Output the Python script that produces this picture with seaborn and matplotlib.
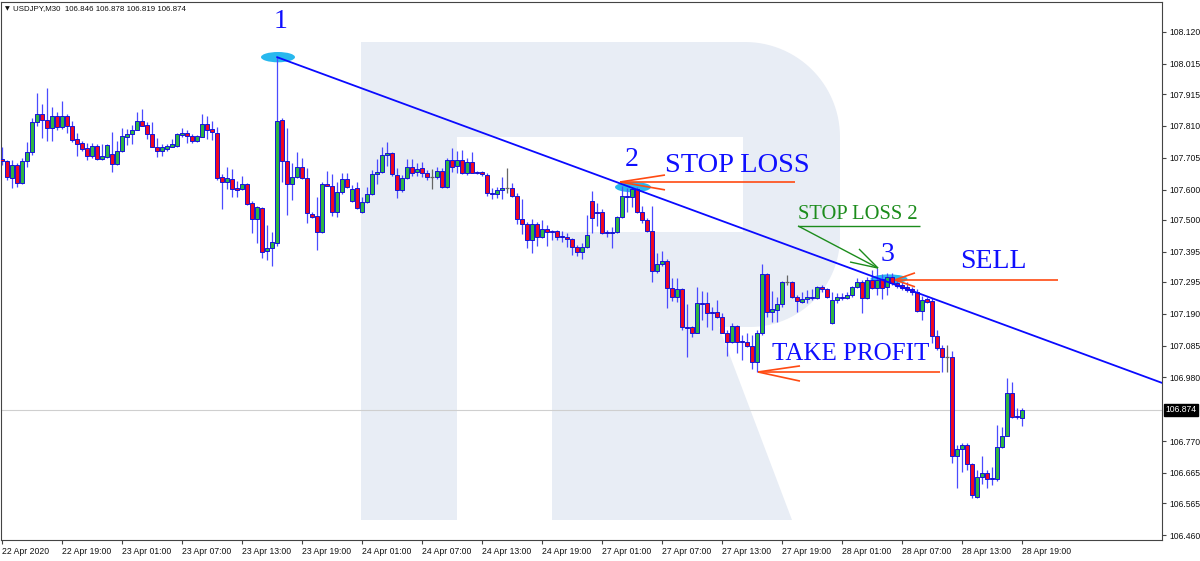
import numpy as np
import pandas as pd
import matplotlib
matplotlib.use("Agg")
import matplotlib.pyplot as plt
import matplotlib.transforms as mtransforms
from matplotlib.patches import Ellipse, Polygon
import seaborn as sns

# ---------------- data (USDJPY M30) ----------------
opens = [107.701,107.695,107.639,107.682,107.622,107.695,107.724,107.823,107.850,107.830,
         107.804,107.843,107.807,107.843,107.810,107.767,107.754,107.737,107.711,107.744,
         107.701,107.708,107.718,107.685,107.728,107.774,107.784,107.797,107.827,107.813,
         107.784,107.741,107.728,107.734,107.741,107.744,107.780,107.787,107.777,107.761,
         107.774,107.817,107.800,107.787,107.642,107.625,107.635,107.606,107.602,107.619,
         107.556,107.503,107.540,107.398,107.407,107.424,107.830,107.695,107.619,107.642,
         107.675,107.639,107.520,107.513,107.460,107.619,107.612,107.526,107.592,107.635,
         107.563,107.606,107.526,107.559,107.586,107.652,107.659,107.714,107.721,107.648,
         107.599,107.639,107.675,107.659,107.671,107.655,107.642,107.642,107.662,107.609,
         107.698,107.678,107.698,107.655,107.691,107.659,107.659,107.648,107.589,107.586,
         107.599,107.606,107.606,107.579,107.503,107.487,107.434,107.487,107.444,107.470,
         107.464,107.464,107.447,107.444,107.437,107.411,107.394,107.411,107.563,107.526,
         107.526,107.460,107.457,107.460,107.510,107.579,107.576,107.602,107.526,107.500,
         107.464,107.332,107.355,107.365,107.276,107.246,107.272,107.147,107.147,107.127,
         107.226,107.226,107.196,107.196,107.180,107.127,107.097,107.150,107.098,107.097,
         107.084,107.031,107.127,107.322,107.196,107.203,107.223,107.295,107.295,107.246,
         107.230,107.239,107.246,107.243,107.279,107.272,107.159,107.236,107.246,107.243,
         107.252,107.279,107.295,107.243,107.302,107.276,107.305,107.279,107.312,107.292,
         107.285,107.279,107.272,107.262,107.200,107.239,107.233,107.117,107.077,107.048,
         107.048,106.721,106.744,106.757,106.694,106.585,106.651,106.665,106.648,106.645,
         106.750,106.787,106.929,106.853,106.846]
highs = [107.741,107.698,107.698,107.688,107.705,107.757,107.837,107.919,107.883,107.936,
         107.873,107.856,107.893,107.850,107.827,107.787,107.761,107.754,107.754,107.751,
         107.751,107.751,107.790,107.761,107.804,107.800,107.813,107.856,107.866,107.823,
         107.823,107.771,107.751,107.751,107.767,107.787,107.804,107.797,107.784,107.780,
         107.850,107.843,107.827,107.807,107.652,107.675,107.668,107.629,107.645,107.622,
         107.563,107.546,107.543,107.483,107.460,108.037,107.837,107.804,107.688,107.724,
         107.705,107.671,107.526,107.576,107.625,107.662,107.652,107.625,107.655,107.655,
         107.615,107.625,107.576,107.609,107.665,107.701,107.741,107.757,107.724,107.671,
         107.648,107.701,107.701,107.688,107.691,107.665,107.668,107.675,107.671,107.705,
         107.737,107.728,107.731,107.705,107.724,107.662,107.662,107.655,107.606,107.609,
         107.642,107.671,107.622,107.589,107.569,107.493,107.503,107.493,107.500,107.483,
         107.467,107.467,107.464,107.457,107.440,107.417,107.424,107.516,107.596,107.556,
         107.536,107.467,107.477,107.513,107.612,107.606,107.609,107.609,107.546,107.507,
         107.546,107.391,107.398,107.371,107.309,107.309,107.276,107.223,107.150,107.279,
         107.266,107.262,107.213,107.236,107.193,107.137,107.160,107.153,107.120,107.127,
         107.120,107.137,107.355,107.325,107.266,107.246,107.299,107.318,107.299,107.252,
         107.262,107.269,107.272,107.282,107.285,107.276,107.262,107.259,107.259,107.262,
         107.282,107.308,107.302,107.312,107.335,107.341,107.321,107.325,107.325,107.302,
         107.295,107.295,107.279,107.272,107.249,107.246,107.243,107.137,107.087,107.087,
         107.067,106.757,106.764,106.764,106.698,106.674,106.721,106.674,106.684,106.823,
         106.816,106.978,106.965,106.879,106.878]
lows = [107.682,107.632,107.606,107.609,107.619,107.675,107.714,107.810,107.771,107.761,
        107.761,107.797,107.800,107.787,107.757,107.711,107.728,107.698,107.705,107.698,
        107.698,107.705,107.659,107.682,107.724,107.747,107.751,107.797,107.810,107.767,
        107.741,107.708,107.711,107.728,107.741,107.741,107.774,107.754,107.754,107.757,
        107.774,107.767,107.764,107.632,107.536,107.602,107.576,107.576,107.599,107.550,
        107.457,107.424,107.374,107.368,107.348,107.414,107.625,107.516,107.566,107.639,
        107.635,107.490,107.507,107.401,107.457,107.612,107.513,107.510,107.586,107.606,
        107.559,107.536,107.523,107.556,107.582,107.619,107.655,107.678,107.645,107.573,
        107.592,107.635,107.645,107.645,107.642,107.632,107.602,107.635,107.606,107.606,
        107.659,107.655,107.652,107.648,107.655,107.652,107.645,107.579,107.569,107.573,
        107.569,107.589,107.576,107.487,107.454,107.407,107.391,107.414,107.440,107.414,
        107.434,107.434,107.427,107.411,107.384,107.381,107.371,107.407,107.457,107.480,
        107.454,107.444,107.407,107.457,107.507,107.526,107.543,107.523,107.490,107.460,
        107.295,107.325,107.348,107.210,107.233,107.230,107.137,107.048,107.114,107.127,
        107.170,107.147,107.137,107.176,107.127,107.051,107.094,107.061,107.038,107.081,
        107.008,106.998,107.120,107.180,107.163,107.163,107.213,107.285,107.243,107.196,
        107.226,107.226,107.236,107.239,107.262,107.243,107.156,107.226,107.236,107.239,
        107.246,107.276,107.193,107.239,107.272,107.252,107.239,107.252,107.285,107.276,
        107.269,107.262,107.252,107.196,107.170,107.226,107.094,107.071,106.998,106.998,
        106.698,106.615,106.668,106.674,106.582,106.582,106.628,106.615,106.625,106.638,
        106.747,106.787,106.846,106.843,106.819]
closes = [107.695,107.642,107.682,107.622,107.695,107.724,107.823,107.850,107.830,107.804,
          107.843,107.807,107.843,107.810,107.764,107.751,107.734,107.711,107.744,107.701,
          107.711,107.747,107.685,107.728,107.777,107.784,107.797,107.827,107.810,107.784,
          107.741,107.728,107.741,107.744,107.751,107.784,107.787,107.777,107.761,107.777,
          107.817,107.797,107.790,107.639,107.625,107.639,107.602,107.599,107.619,107.553,
          107.503,107.543,107.394,107.407,107.427,107.827,107.695,107.619,107.642,107.675,
          107.639,107.523,107.510,107.460,107.619,107.612,107.526,107.592,107.635,107.609,
          107.602,107.540,107.559,107.586,107.652,107.659,107.714,107.721,107.652,107.599,
          107.639,107.675,107.655,107.668,107.655,107.642,107.642,107.662,107.609,107.698,
          107.675,107.698,107.655,107.691,107.655,107.655,107.652,107.589,107.586,107.599,
          107.606,107.606,107.579,107.503,107.487,107.434,107.487,107.444,107.470,107.460,
          107.460,107.444,107.444,107.437,107.411,107.394,107.411,107.450,107.507,107.523,
          107.457,107.457,107.460,107.510,107.579,107.576,107.602,107.526,107.500,107.464,
          107.332,107.355,107.365,107.276,107.246,107.272,107.147,107.143,107.127,107.226,
          107.223,107.193,107.193,107.180,107.127,107.097,107.150,107.097,107.096,107.084,
          107.031,107.127,107.322,107.196,107.206,107.223,107.295,107.295,107.246,107.233,
          107.239,107.246,107.243,107.279,107.272,107.246,107.236,107.246,107.243,107.252,
          107.279,107.295,107.243,107.302,107.276,107.302,107.276,107.312,107.292,107.282,
          107.276,107.269,107.262,107.200,107.236,107.230,107.117,107.077,107.048,107.048,
          106.721,106.744,106.757,106.694,106.592,106.651,106.665,106.645,106.645,106.750,
          106.787,106.929,106.849,106.849,106.874]

time_labels = ["22 Apr 2020", "22 Apr 19:00", "23 Apr 01:00", "23 Apr 07:00", "23 Apr 13:00",
               "23 Apr 19:00", "24 Apr 01:00", "24 Apr 07:00", "24 Apr 13:00", "24 Apr 19:00",
               "27 Apr 01:00", "27 Apr 07:00", "27 Apr 13:00", "27 Apr 19:00", "28 Apr 01:00",
               "28 Apr 07:00", "28 Apr 13:00", "28 Apr 19:00"]
time_label_bars = list(range(0, 205, 12))
price_ticks = [108.120, 108.015, 107.915, 107.810, 107.705, 107.600, 107.500, 107.395,
               107.295, 107.190, 107.085, 106.980, 106.770, 106.665, 106.565, 106.460]
last_price = 106.874
trend_x = [55, 232]
trend_y = [108.037, 106.962]

# ---------------- figure ----------------
sns.set_theme(style="white")
plt.rcParams["font.family"] = ["Liberation Sans", "DejaVu Sans"]

W, H = 1200, 561
fig = plt.figure(figsize=(W / 100, H / 100), dpi=100)
fig.patch.set_facecolor("white")

# background axes holding the watermark "R" (pixel coordinates, y downward)
bg = fig.add_axes([0, 0, 1, 1], zorder=0)
bg.set_xlim(0, W)
bg.set_ylim(H, 0)
bg.axis("off")

def arc(cx, cy, r, a0, a1, n=30):
    a = np.radians(np.linspace(a0, a1, n))
    return list(zip(cx + r * np.cos(a), cy + r * np.sin(a)))

pts = [(361, 42), (745, 42)] + arc(745, 137, 95, -90, 0) + [(840, 237)] + arc(750, 237, 90, 0, 90)
pts += [(719, 327), (792, 520), (552, 520), (552, 232), (743, 232), (743, 137),
        (457, 137), (457, 520), (361, 520)]
bg.add_patch(Polygon(pts, closed=True, facecolor="#e8edf5", edgecolor="none"))

ax = fig.add_axes([1 / W, 1 - 540 / H, 1161 / W, 538 / H], zorder=1)
ax.patch.set_alpha(0)
ax.set_xlim(-0.2, 232.0)
ax.set_ylim(106.4435, 108.219)

df = pd.DataFrame({"i": np.arange(len(opens)), "o": opens, "h": highs, "l": lows, "c": closes})
up = df[df.c > df.o]
dn = df[df.c < df.o]
fl = df[df.c == df.o]
nf = df[df.c != df.o]

# current price line
ax.axhline(last_price, color="#cfcfcf", lw=0.8, zorder=1)

# ellipses
for cx, cy, w, h in [(55.2, 108.037, 6.8, 0.034), (126.2, 107.608, 7.2, 0.034), (177.4, 107.305, 7.4, 0.030)]:
    ax.add_patch(Ellipse((cx, cy), w, h, facecolor="#1cb4ee", edgecolor="none", alpha=0.95, zorder=2))

# candles
ax.vlines(nf.i, nf.l, nf.h, color="#4a4aff", lw=0.9, zorder=3)
ax.vlines(fl.i, fl.l, fl.h, color="#666666", lw=0.9, zorder=3)
ax.hlines(fl.c, fl.i - 0.35, fl.i + 0.35, color="#666666", lw=0.9, zorder=3)
minh = 0.004
for sub, col in [(up, "#2fb544"), (dn, "#ee0a24")]:
    bottom = np.minimum(sub.o, sub.c)
    height = np.maximum(np.abs(sub.c - sub.o), minh)
    ax.bar(sub.i, height, bottom=bottom, width=0.62, color=col, edgecolor="#1414d8",
           linewidth=0.7, zorder=4)

# trend line
sns.lineplot(x=trend_x, y=trend_y, ax=ax, color="#0a0aff", lw=1.3, zorder=6)

# annotations
serif = "Liberation Serif"
blue = "#0f0fff"
orange = "#ff4a12"
green = "#1c8c1c"
ax.text(55.8, 108.153, "1", fontsize=20, family=serif, color=blue, ha="center", va="center", zorder=7)
ax.text(126.0, 107.698, "2", fontsize=20, family=serif, color=blue, ha="center", va="center", zorder=7)
ax.text(177.0, 107.387, "3", fontsize=20, family=serif, color=blue, ha="center", va="center", zorder=7)
ax.text(132.6, 107.681, "STOP LOSS", fontsize=20.5, family=serif, color=blue, ha="left", va="center", zorder=7)
ax.text(159.2, 107.519, "STOP LOSS 2", fontsize=14.8, family=serif, color=green, ha="left", va="center", zorder=7)
ax.text(191.6, 107.361, "SELL", fontsize=20, family=serif, color=blue, ha="left", va="center", zorder=7)
ax.text(154.0, 107.057, "TAKE PROFIT", fontsize=18, family=serif, color=blue, ha="left", va="center", zorder=7)

def seg(x0, y0, x1, y1, color, lw=1.2):
    ax.plot([x0, x1], [y0, y1], color=color, lw=lw, zorder=7, solid_capstyle="butt")

# stop loss arrow
seg(123.6, 107.625, 158.6, 107.625, orange)
seg(123.6, 107.625, 132.6, 107.648, orange)
seg(123.6, 107.625, 132.6, 107.599, orange)
# sell arrow
seg(178.6, 107.302, 211.2, 107.302, orange)
seg(178.6, 107.302, 182.6, 107.325, orange)
seg(178.6, 107.302, 182.6, 107.279, orange)
# take profit arrow
seg(151.2, 106.998, 187.6, 106.998, orange)
seg(151.2, 106.998, 159.6, 107.018, orange)
seg(151.2, 106.998, 159.6, 106.968, orange)
# stop loss 2 arrow
seg(159.2, 107.480, 183.6, 107.480, green, 1.0)
seg(159.2, 107.480, 175.2, 107.341, green, 1.0)
seg(175.2, 107.341, 169.6, 107.361, green, 1.0)
seg(175.2, 107.341, 171.4, 107.404, green, 1.0)

# axes styling
for s in ax.spines.values():
    s.set_color("#444444")
    s.set_linewidth(0.8)
ax.set_xticks(time_label_bars)
ax.set_xticklabels(time_labels)
for lbl in ax.get_xticklabels():
    lbl.set_ha("left")
ax.yaxis.tick_right()
ax.set_yticks(price_ticks)
ax.set_yticklabels([f"{p:.3f}" for p in price_ticks])
ax.tick_params(axis="both", direction="out", length=3, width=0.8, color="#444444",
               labelsize=6.2, labelcolor="#111111", pad=2)
ax.tick_params(axis="x", bottom=True)
ax.tick_params(axis="y", right=True)

trans = mtransforms.blended_transform_factory(ax.transAxes, ax.transData)
ax.text(1.0028, last_price, f"{last_price:.3f}", transform=trans, fontsize=6.2, color="white",
        ha="left", va="center", zorder=8,
        bbox=dict(boxstyle="square,pad=0.18", facecolor="black", edgecolor="black"))

fig.text(5 / W, 1 - 9 / H, "▼", fontsize=4.5, color="#111111", ha="left", va="center",
         family=["DejaVu Sans"])
fig.text(13 / W, 1 - 9 / H, "USDJPY,M30  106.846 106.878 106.819 106.874", fontsize=5.7,
         color="#111111", ha="left", va="center")

fig.savefig("out.png", dpi=100)
